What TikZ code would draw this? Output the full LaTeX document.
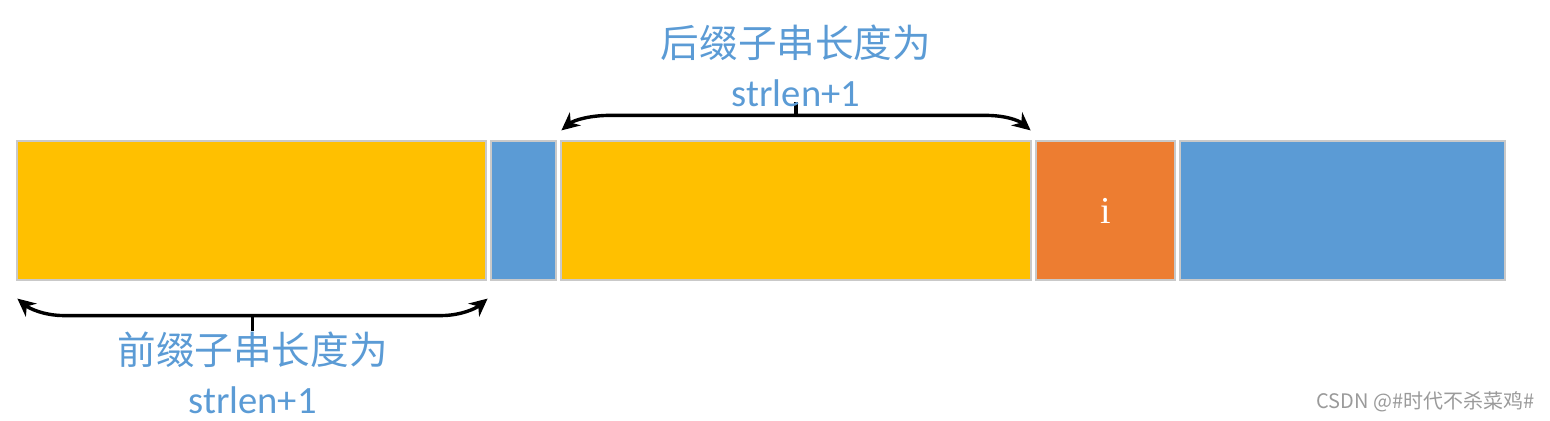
\documentclass[tikz,border=0pt]{standalone}
\usepackage{fontspec}
\setmainfont{Carlito}
\newfontfamily\cjk{Noto Sans CJK SC}
\newfontfamily\timesf{Liberation Serif}
\usetikzlibrary{positioning, arrows.meta, calc}
\definecolor{cellyellow}{HTML}{FFC000}
\definecolor{cellblue}{HTML}{5B9BD5}
\definecolor{cellorange}{HTML}{ED7D31}
\definecolor{cellline}{HTML}{C9C9C9}
\definecolor{lblblue}{HTML}{5B9BD5}
\definecolor{wmgray}{HTML}{9A9A9A}

\begin{document}
\begin{tikzpicture}[x=0.5pt, y=-0.5pt,
    cell/.style={draw=cellline, line width=0.6pt, minimum height=69.5pt, inner sep=0pt},
    brace/.style={line width=1.7pt, {Stealth[length=9pt,width=8.5pt]}-{Stealth[length=9pt,width=8.5pt]}},
    lbl/.style={text=lblblue, font=\fontsize{19.3}{24.5}\selectfont, align=center, inner sep=0pt}]
    \useasboundingbox (0,0) rectangle (1550,421);
    \foreach \x/\w/\c/\n in {251.5/469/cellyellow/pre, 523.5/65/cellblue/gap,
                             796/470/cellyellow/suf, 1105.5/139/cellorange/cur,
                             1342.5/325/cellblue/rest}{
      \node[cell, fill=\c, minimum width=\w*0.5pt] (\n) at (\x,210.5) {};
    }
    \node[text=white, font=\timesf\fontsize{19}{19}\selectfont] (ilbl) at (cur.center) {i};

    % suffix brace
    \coordinate (sl) at ($(suf.north west)+(1,-10)$);
    \coordinate (sr) at ($(suf.north east)+(-1,-10)$);
    \coordinate (sm) at ($(sl)!0.5!(sr)+(0,-15)$);
    \draw[brace] (sl) .. controls +(12,-10) and +(-20,0) .. ($(sl)+(48,-15)$)
      -- ($(sr)+(-45,-15)$) .. controls +(20,0) and +(-12,-10) .. (sr);
    \draw[line width=1.7pt] (sm) -- ++(0,-13);
    \node[lbl] (suftxt) at ($(sm)+(0,-50)$) {{\cjk 后缀子串长度为}\\strlen+1};

    % prefix brace
    \coordinate (pl) at ($(pre.south west)+(1,18)$);
    \coordinate (pr) at ($(pre.south east)+(1,18)$);
    \coordinate (pm) at ($(pl)!0.5!(pr)+(0,17)$);
    \draw[brace] (pl) .. controls +(12,10) and +(-20,0) .. ($(pl)+(47,17)$)
      -- ($(pr)+(-47,17)$) .. controls +(20,0) and +(-12,10) .. (pr);
    \draw[line width=1.7pt] (pm) -- ++(0,15);
    \node[lbl] (pretxt) at ($(pm)+(0,57.5)$) {{\cjk 前缀子串长度为}\\strlen+1};

    \node[anchor=east, text=wmgray, font=\cjk\fontsize{10}{12}\selectfont, inner sep=0pt]
      (wmark) at (1535,402) {CSDN @\#时代不杀菜鸡\#};
  \end{tikzpicture}
\end{document}
